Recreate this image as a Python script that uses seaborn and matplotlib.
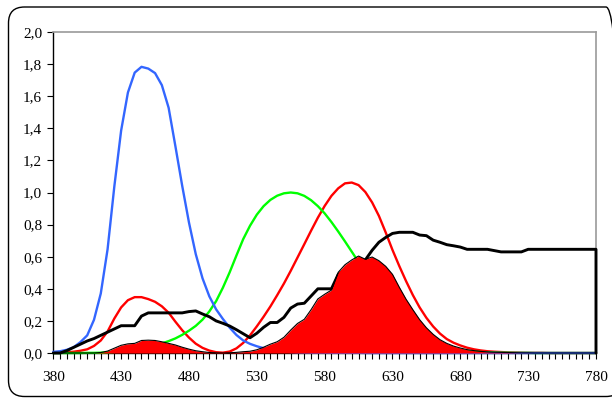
import matplotlib
matplotlib.use("Agg")
import matplotlib.pyplot as plt
import numpy as np
import pandas as pd
import seaborn as sns
from matplotlib.patches import FancyBboxPatch

# Wavelength categories (nm), one every 5 nm
wavelength = list(range(380, 785, 5))

# Colour matching functions
x_bar = [0.001, 0.002, 0.004, 0.008, 0.014, 0.023, 0.044, 0.078, 0.134, 0.215,
         0.284, 0.329, 0.348, 0.348, 0.336, 0.319, 0.291, 0.251, 0.195, 0.142,
         0.096, 0.058, 0.032, 0.015, 0.005, 0.002, 0.009, 0.029, 0.063, 0.110,
         0.166, 0.226, 0.290, 0.360, 0.433, 0.512, 0.595, 0.678, 0.762, 0.843,
         0.916, 0.979, 1.026, 1.057, 1.062, 1.046, 1.003, 0.938, 0.854, 0.751,
         0.642, 0.542, 0.448, 0.361, 0.284, 0.219, 0.165, 0.121, 0.087, 0.064,
         0.047, 0.033, 0.023, 0.016, 0.011, 0.008, 0.006, 0.004, 0.003, 0.002,
         0.001, 0.001, 0.001, 0.0, 0.0, 0.0, 0.0, 0.0, 0.0, 0.0,
         0.0]
y_bar = [0.000, 0.000, 0.000, 0.000, 0.000, 0.001, 0.001, 0.002, 0.004, 0.007,
         0.012, 0.017, 0.023, 0.030, 0.038, 0.048, 0.060, 0.074, 0.091, 0.113,
         0.139, 0.169, 0.208, 0.259, 0.323, 0.407, 0.503, 0.608, 0.710, 0.793,
         0.862, 0.915, 0.954, 0.980, 0.995, 1.000, 0.995, 0.979, 0.952, 0.915,
         0.870, 0.816, 0.757, 0.695, 0.631, 0.567, 0.503, 0.441, 0.381, 0.321,
         0.265, 0.217, 0.175, 0.138, 0.107, 0.082, 0.061, 0.045, 0.032, 0.023,
         0.017, 0.012, 0.008, 0.006, 0.004, 0.003, 0.002, 0.002, 0.001, 0.001,
         0.001, 0.0, 0.0, 0.0, 0.0, 0.0, 0.0, 0.0, 0.0, 0.0,
         0.0]
z_bar = [0.007, 0.011, 0.020, 0.036, 0.068, 0.110, 0.207, 0.371, 0.646, 1.039,
         1.386, 1.623, 1.747, 1.783, 1.772, 1.744, 1.669, 1.528, 1.288, 1.042,
         0.813, 0.616, 0.465, 0.353, 0.272, 0.212, 0.158, 0.112, 0.078, 0.057,
         0.042, 0.030, 0.020, 0.013, 0.009, 0.006, 0.004, 0.003, 0.002, 0.002,
         0.002, 0.001, 0.001, 0.001, 0.001, 0.001, 0.0, 0.0, 0.0, 0.0,
         0.0, 0.0, 0.0, 0.0, 0.0, 0.0, 0.0, 0.0, 0.0, 0.0,
         0.0, 0.0, 0.0, 0.0, 0.0, 0.0, 0.0, 0.0, 0.0, 0.0,
         0.0, 0.0, 0.0, 0.0, 0.0, 0.0, 0.0, 0.0, 0.0, 0.0,
         0.0]

# Spectral reflectance of the sample
reflectance = [0.0, 0.0, 0.015, 0.035, 0.055, 0.075, 0.09, 0.11, 0.13, 0.15,
               0.17, 0.17, 0.17, 0.23, 0.25, 0.25, 0.25, 0.25, 0.25, 0.25,
               0.258, 0.262, 0.243, 0.226, 0.2, 0.185, 0.168, 0.145, 0.12, 0.095,
               0.123, 0.16, 0.19, 0.19, 0.222, 0.28, 0.305, 0.31, 0.355, 0.4,
               0.4, 0.4, 0.49, 0.52, 0.545, 0.578, 0.58, 0.64, 0.69, 0.72,
               0.745, 0.752, 0.752, 0.752, 0.735, 0.731, 0.703, 0.69, 0.675, 0.668,
               0.66, 0.646, 0.646, 0.646, 0.646, 0.638, 0.63, 0.63, 0.63, 0.63,
               0.646, 0.646, 0.646, 0.646, 0.646, 0.646, 0.646, 0.646, 0.646, 0.646,
               0.646]

# Weighted response (x-bar times reflectance), shown as the filled area
weighted_x = [0.0, 0.0, 0.0, 0.0, 0.0, 0.0, 0.0, 0.003, 0.012, 0.03,
              0.048, 0.057, 0.06, 0.078, 0.08, 0.078, 0.07, 0.06, 0.05, 0.036,
              0.024, 0.014, 0.008, 0.003, 0.001, 0.0, 0.0015, 0.004, 0.008, 0.011,
              0.02, 0.036, 0.055, 0.07, 0.098, 0.143, 0.184, 0.21, 0.27, 0.337,
              0.366, 0.392, 0.503, 0.55, 0.58, 0.604, 0.584, 0.598, 0.575, 0.54,
              0.49, 0.41, 0.335, 0.27, 0.208, 0.157, 0.116, 0.083, 0.06, 0.043,
              0.031, 0.021, 0.015, 0.01, 0.007, 0.005, 0.004, 0.003, 0.002, 0.001,
              0.001, 0.0, 0.0, 0.0, 0.0, 0.0, 0.0, 0.0, 0.0, 0.0,
              0.0]

x_tick_labels = [380, 430, 480, 530, 580, 630, 680, 730, 780]
y_ticks = [0.0, 0.2, 0.4, 0.6, 0.8, 1.0, 1.2, 1.4, 1.6, 1.8, 2.0]
y_tick_labels = ["0,0", "0,2", "0,4", "0,6", "0,8", "1,0", "1,2", "1,4", "1,6", "1,8", "2,0"]

sns.set_theme(style="white")
plt.rcParams["font.family"] = ["Liberation Serif", "DejaVu Serif"]

W, H = 612, 398
fig = plt.figure(figsize=(W / 100, H / 100), dpi=100)
fig.patch.set_facecolor("white")
left, right, top, bottom = 53.3, 596.0, 32.0, 353.0
ax = fig.add_axes([left / W, 1 - bottom / H, (right - left) / W, (bottom - top) / H])
ax.set_facecolor("white")

common = dict(ax=ax, estimator=None, legend=False, clip_on=False)
sns.lineplot(x=wavelength, y=x_bar, color="#FF0000", lw=1.7, zorder=3.0, **common)
sns.lineplot(x=wavelength, y=y_bar, color="#00FF00", lw=1.7, zorder=3.1, **common)
sns.lineplot(x=wavelength, y=z_bar, color="#3366FF", lw=1.7, zorder=3.2, **common)

# Reflectance drawn as an unfilled area: top edge plus the closing edge at 780 nm
refl_df = pd.DataFrame({"nm": wavelength + [wavelength[-1]],
                        "r": reflectance + [0.0]})
sns.lineplot(data=refl_df, x="nm", y="r", sort=False, color="black", lw=2.1,
             zorder=3.3, **common)

ax.fill_between(wavelength, 0, weighted_x, color="#FF0000", lw=0, zorder=3.4)
sns.lineplot(x=wavelength, y=weighted_x, color="black", lw=0.8, zorder=3.5, **common)

ax.set_xlim(380, 780)
ax.set_ylim(0, 2.0)
ax.set_xticks(x_tick_labels)
ax.set_xticklabels([str(v) for v in x_tick_labels])
ax.set_xticks(wavelength, minor=True)
ax.set_yticks(y_ticks)
ax.set_yticklabels(y_tick_labels)
ax.set_xlabel("")
ax.set_ylabel("")

ax.tick_params(axis="x", which="both", direction="out", length=4, width=0.8,
               color="black", bottom=True)
ax.tick_params(axis="x", which="major", pad=9, labelsize=11, labelcolor="black")
ax.tick_params(axis="y", which="major", direction="out", length=4, width=0.8,
               color="black", left=True, pad=4, labelsize=11, labelcolor="black")

for side in ("left", "bottom"):
    ax.spines[side].set_color("black")
    ax.spines[side].set_linewidth(1.0)
for side in ("top", "right"):
    ax.spines[side].set_color("#9a9a9a")
    ax.spines[side].set_linewidth(1.2)

# Rounded chart frame
frame = FancyBboxPatch((8.5, 1.5), 622 - 8.5, 391 - 1.5,
                       boxstyle="round,pad=0,rounding_size=16",
                       transform=None, fill=False, ec="black", lw=1.0)
fig.add_artist(frame)

fig.savefig("out.png", dpi=100, facecolor="white")
